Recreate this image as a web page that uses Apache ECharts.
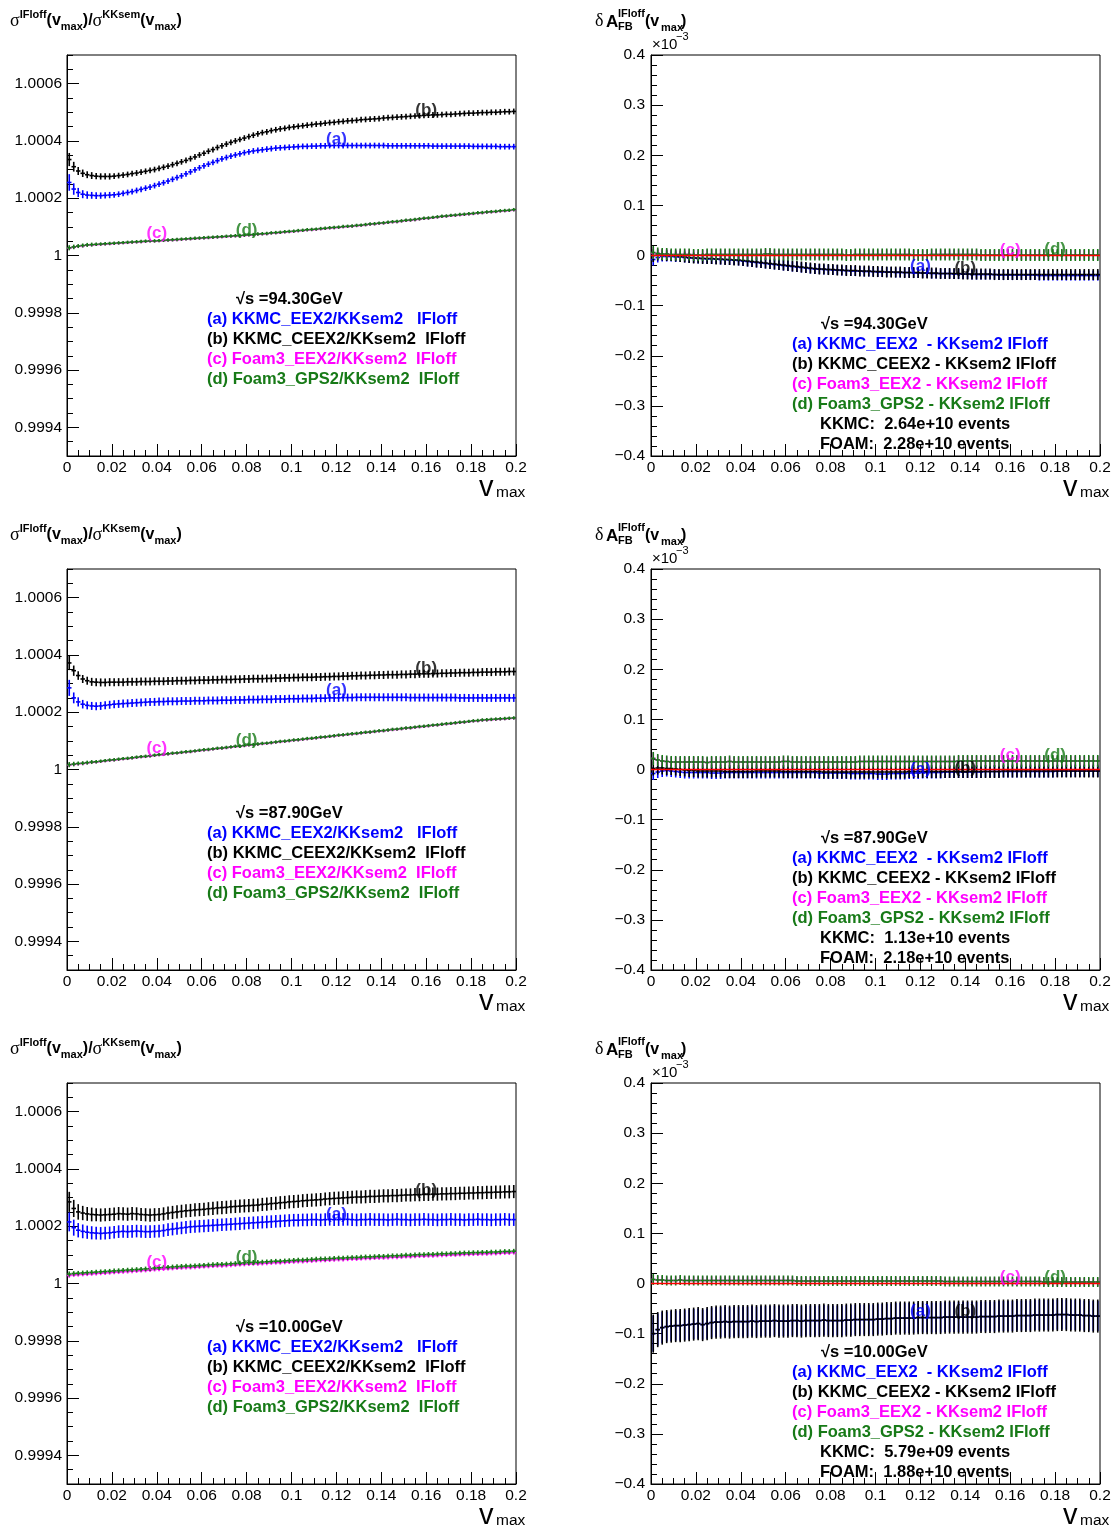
<!DOCTYPE html>
<html><head><meta charset="utf-8">
<script src="https://cdn.jsdelivr.net/npm/echarts@6/dist/echarts.min.js"></script>
<style>html,body{margin:0;padding:0;background:#fff}#c{width:1116px;height:1529px}</style>
</head><body><div id="c"></div>
<script>
// ---------- binning ----------
const BIN_W = 0.002, N_BINS = 100;
// ---------- tick values ----------
const X_MIN = 0, X_MAX = 0.2, X_INT = 0.02;
const L_MIN = -700, L_MAX = 700, L_MAJOR = [-600,-400,-200,0,200,400,600], L_MINOR_INT = 50; // ppm: 1+v*1e-6
const R_MIN = -400, R_MAX = 400, R_INT = 100; // units 1e-6 (axis shown x10^-3)

// ---------- Left panels: sigma ratio - 1, in units of 1e-6 ----------
const L94_a = [255,232,220,214,211,210,209,209,210,211,
212,214,217,220,223,227,231,235,239,244,
249,254,260,266,272,278,285,292,299,306,
313,319,325,331,337,342,347,351,355,359,
362,365,367,369,371,373,375,376,377,378,
379,380,381,381,382,382,383,383,384,384,
384,384,384,384,384,384,384,384,384,384,
384,383,383,383,383,383,383,383,383,383,
383,382,382,382,382,382,382,382,382,382,
381,381,381,381,381,381,380,380,380,380];
const L94_b = [335,310,295,287,282,279,277,276,276,276,
277,279,281,283,286,288,291,294,297,300,
304,308,312,317,322,327,332,338,344,351,
357,364,370,377,383,389,395,400,405,410,
415,420,425,429,432,436,439,442,444,447,
449,451,453,455,457,459,460,462,464,465,
467,468,470,471,472,474,475,476,477,478,
480,481,482,483,484,485,486,487,488,489,
490,491,491,492,493,493,494,495,496,497,
497,498,499,499,500,500,501,502,502,503];
const L94_c = [26,29,32,34,36,37,38,39,40,41,
42,43,44,45,46,47,48,49,50,50,
51,52,53,54,55,56,57,58,59,60,
61,62,63,64,65,66,67,68,69,70,
71,72,74,75,76,78,79,80,82,83,
84,86,87,89,90,91,93,94,96,97,
98,100,101,102,104,105,107,109,110,112,
113,115,117,118,120,122,123,125,127,129,
130,132,134,136,137,139,140,142,143,145,
146,148,149,151,152,153,155,156,157,159];
const L94_d = [27,30,33,35,37,38,39,40,41,42,
43,44,45,46,47,48,49,50,51,51,
52,53,54,55,56,57,58,59,60,61,
62,63,64,65,66,67,68,69,70,71,
72,73,75,76,77,79,80,81,83,84,
85,87,88,90,91,92,94,95,97,98,
99,101,102,103,105,106,108,110,111,113,
114,116,118,119,121,123,124,126,128,130,
131,133,135,137,138,140,141,143,144,146,
147,149,150,152,153,154,156,157,158,160];
const L94_a_err = [29,20,16,14,13,12,12,11,11,11,
10,10,10,10,10,10,10,10,10,10,10,10,10,10,10,10,10,10,10,10,
10,10,10,10,10,10,10,10,10,10,10,10,10,10,10,10,10,10,10,10,
10,10,10,10,10,10,10,10,10,10,10,10,10,10,10,10,10,10,10,10,
10,10,10,10,10,10,10,10,10,10,10,10,10,10,10,10,10,10,10,10,
10,10,10,10,10,10,10,10,10,10];
const L94_b_err = [23,17,14,13,12,12,11,11,11,11,
10,10,10,10,10,10,10,10,10,10,10,10,10,10,10,10,10,10,10,10,
10,10,10,10,10,10,10,10,10,10,10,10,10,10,10,10,10,10,10,10,
10,10,10,10,10,10,10,10,10,10,10,10,10,10,10,10,10,10,10,10,
10,10,10,10,10,10,10,10,10,10,10,10,10,10,10,10,10,10,10,10,
10,10,10,10,10,10,10,10,10,10];
const L94_c_err = [7,6,6,6,5,5,5,5,5,5,5,5,5,5,5,5,5,5,5,5,5,5,5,5,5,5,5,5,5,5,
5,5,5,5,5,5,5,5,5,5,5,5,5,5,5,5,5,5,5,5,5,5,5,5,5,5,5,5,5,5,
5,5,5,5,5,5,5,5,5,5,5,5,5,5,5,5,5,5,5,5,5,5,5,5,5,5,5,5,5,5,
5,5,5,5,5,5,5,5,5,5];
const L94_d_err = [9,8,7,7,7,7,6,6,6,6,6,6,6,6,6,6,6,6,6,6,6,6,6,6,6,6,6,6,6,6,
6,6,6,6,6,6,6,6,6,6,6,6,6,6,6,6,6,6,6,6,6,6,6,6,6,6,6,6,6,6,
6,6,6,6,6,6,6,6,6,6,6,6,6,6,6,6,6,6,6,6,6,6,6,6,6,6,6,6,6,6,
6,6,6,6,6,6,6,6,6,6];

const L88_a = [285,250,236,228,224,222,221,222,224,226,
228,229,230,231,232,233,234,235,236,236,
237,237,238,238,238,239,239,239,240,240,
240,241,241,241,242,242,242,243,243,243,
244,244,244,245,245,245,246,246,246,247,
247,247,248,248,248,249,249,249,250,250,
250,251,251,251,252,252,252,252,252,252,
252,252,252,252,252,252,251,251,251,251,
251,251,251,251,251,251,251,250,250,250,
250,250,250,250,250,250,250,250,250,250];
const L88_b = [372,345,328,316,310,306,305,304,304,305,
305,305,305,306,306,306,307,307,307,308,
308,308,309,309,310,310,310,311,311,312,
312,312,313,313,314,314,314,315,315,316,
316,317,317,317,318,318,319,319,320,320,
321,321,322,322,322,323,323,324,324,325,
325,326,326,327,327,328,328,329,329,330,
330,331,331,331,332,332,333,333,334,334,
334,335,335,336,336,337,337,338,338,338,
339,339,340,340,340,341,341,341,342,342];
const L88_c = [16,18,20,21,23,25,26,28,30,32,
33,35,37,38,40,42,44,45,47,49,
51,52,54,56,57,59,61,62,64,66,
68,69,71,73,74,76,78,80,81,83,
85,86,88,90,91,93,95,97,98,100,
102,103,105,107,108,110,112,113,115,117,
119,120,122,124,125,127,129,130,132,134,
135,137,139,140,142,144,145,147,149,150,
152,154,155,157,159,160,162,164,165,167,
169,170,172,173,174,175,176,177,178,179];
const L88_d = [17,19,21,22,24,26,27,29,31,33,
34,36,38,39,41,43,45,46,48,50,
52,53,55,57,58,60,62,63,65,67,
69,70,72,74,75,77,79,81,82,84,
86,87,89,91,92,94,96,98,99,101,
103,104,106,108,109,111,113,114,116,118,
120,121,123,125,126,128,130,131,133,135,
136,138,140,141,143,145,146,148,150,151,
153,155,156,158,160,161,163,165,166,168,
170,171,173,174,175,176,177,178,179,180];
const L88_a_err = [28,19,16,15,14,14,14,14,14,14,
14,14,14,14,14,14,14,14,14,14,14,14,14,14,14,14,14,14,14,14,
14,14,14,14,14,14,14,14,14,14,14,14,14,14,14,14,14,14,14,14,
14,14,14,14,14,14,14,14,14,14,14,14,14,14,14,14,14,14,14,14,
14,14,14,14,14,14,14,14,14,14,14,14,14,14,14,14,14,14,14,14,
14,14,14,14,14,14,14,14,14,14];
const L88_b_err = [25,18,15,14,14,14,14,14,14,14,
14,14,14,14,14,14,14,14,14,14,14,14,14,14,14,14,14,14,14,14,
14,14,14,14,14,14,14,14,14,14,14,14,14,14,14,14,14,14,14,14,
14,14,14,14,14,14,14,14,14,14,14,14,14,14,14,14,14,14,14,14,
14,14,14,14,14,14,14,14,14,14,14,14,14,14,14,14,14,14,14,14,
14,14,14,14,14,14,14,14,14,14];
const L88_c_err = L94_c_err.slice();
const L88_d_err = L94_d_err.slice();

const L10_a = [215,195,186,182,179,177,176,175,176,177,
179,181,182,181,182,183,182,181,181,182,
183,185,188,190,192,194,196,198,199,200,
201,202,203,204,205,206,207,208,209,210,
211,212,213,214,215,216,217,218,219,220,
221,221,222,222,223,223,222,223,224,223,
223,224,224,223,222,223,223,224,223,223,
223,222,223,224,223,223,222,223,223,224,
223,223,222,223,223,224,223,223,222,223,
223,224,223,223,222,223,223,224,223,223];
const L10_b = [285,262,250,246,243,241,240,239,240,241,
242,244,243,242,244,243,241,240,239,240,
241,243,246,248,250,252,254,255,257,258,
259,261,262,264,265,266,268,269,270,271,
272,273,274,276,277,279,280,282,283,285,
286,287,289,290,291,292,293,295,296,297,
298,299,300,301,302,302,303,304,304,305,
306,306,307,307,308,309,309,310,310,311,
311,312,312,313,313,314,314,315,315,316,
316,317,317,318,318,319,319,320,320,321];
const L10_c = [28,30,31,32,33,34,35,36,37,38,
39,40,41,42,43,44,45,46,47,49,
50,51,52,53,54,55,56,56,57,58,
59,60,61,62,62,63,64,65,66,67,
68,69,69,70,71,72,73,73,74,75,
76,77,77,78,79,80,81,81,82,83,
84,84,85,86,86,87,88,88,89,90,
90,91,92,92,93,94,94,95,96,96,
97,97,98,99,99,100,100,101,102,102,
103,103,104,104,105,105,106,107,107,108];
const L10_d = [33,35,36,37,38,39,40,41,42,43,
44,45,46,47,48,49,50,51,52,54,
55,56,57,58,59,60,61,61,62,63,
64,65,66,67,67,68,69,70,71,72,
73,74,74,75,76,77,78,78,79,80,
81,82,82,83,84,85,86,86,87,88,
89,89,90,91,91,92,93,93,94,95,
95,96,97,97,98,99,99,100,101,101,
102,102,103,104,104,105,105,106,107,107,
108,108,109,109,110,110,111,112,112,113];
const L10_a_err = [33,28,25,24,23,23,22,22,22,22,
22,22,22,22,22,22,22,22,22,22,22,22,22,22,22,22,22,22,22,22,
22,22,22,22,22,22,22,22,22,22,22,22,22,22,22,22,22,22,22,22,
22,22,22,22,22,22,22,22,22,22,22,22,22,22,22,22,22,22,22,22,
22,22,22,22,22,22,22,22,22,22,22,22,22,22,22,22,22,22,22,22,
22,22,22,22,22,22,22,22,22,22];
const L10_b_err = [35,30,27,25,24,24,23,23,23,23,
23,23,23,23,23,23,23,23,23,23,23,23,23,23,23,23,23,23,23,23,
23,23,23,23,23,23,23,23,23,23,23,23,23,23,23,23,23,23,23,23,
23,23,23,23,23,23,23,23,23,23,23,23,23,23,23,23,23,23,23,23,
23,23,23,23,23,23,23,23,23,23,23,23,23,23,23,23,23,23,23,23,
23,23,23,23,23,23,23,23,23,23];
const L10_c_err = [8,7,7,7,7,7,7,7,7,7,7,7,7,7,7,7,7,7,7,7,7,7,7,7,7,7,7,7,7,7,
7,7,7,7,7,7,7,7,7,7,7,7,7,7,7,7,7,7,7,7,7,7,7,7,7,7,7,7,7,7,
7,7,7,7,7,7,7,7,7,7,7,7,7,7,7,7,7,7,7,7,7,7,7,7,7,7,7,7,7,7,
7,7,7,7,7,7,7,7,7,7];
const L10_d_err = [9,8,8,8,8,8,8,8,8,8,8,8,8,8,8,8,8,8,8,8,8,8,8,8,8,8,8,8,8,8,
8,8,8,8,8,8,8,8,8,8,8,8,8,8,8,8,8,8,8,8,8,8,8,8,8,8,8,8,8,8,
8,8,8,8,8,8,8,8,8,8,8,8,8,8,8,8,8,8,8,8,8,8,8,8,8,8,8,8,8,8,
8,8,8,8,8,8,8,8,8,8];

// ---------- Right panels: delta A_FB in units of 1e-6 (axis shows x10^-3) ----------
const R94_a = [-8,-4,-2,-2,-2,-3,-3,-4,-5,-5,
-6,-6,-7,-7,-7,-8,-8,-9,-9,-10,
-11,-12,-13,-14,-15,-16,-17,-18,-19,-20,
-21,-22,-23,-24,-25,-26,-27,-27,-28,-28,
-29,-29,-30,-30,-31,-31,-31,-32,-32,-32,
-33,-33,-33,-33,-34,-34,-34,-34,-35,-35,
-35,-35,-36,-36,-36,-36,-36,-37,-37,-37,
-37,-38,-38,-38,-38,-38,-38,-39,-39,-39,
-39,-39,-39,-39,-39,-39,-40,-40,-40,-40,
-40,-40,-40,-40,-40,-40,-40,-40,-40,-40];
const R94_b = [0,1,1,0,0,-1,-2,-3,-4,-5,
-5,-6,-6,-6,-7,-7,-8,-8,-9,-9,
-10,-11,-12,-13,-14,-15,-16,-17,-18,-19,
-20,-21,-22,-23,-24,-25,-26,-27,-27,-28,
-28,-29,-29,-30,-30,-30,-31,-31,-31,-32,
-32,-32,-33,-33,-33,-33,-34,-34,-34,-34,
-35,-35,-35,-35,-36,-36,-36,-36,-36,-37,
-37,-37,-37,-37,-37,-37,-38,-38,-38,-38,
-38,-38,-38,-38,-38,-38,-38,-38,-38,-38,
-38,-38,-38,-38,-38,-38,-38,-38,-38,-38];
const R94_c = [5,4,3,3,2,2,2,2,2,1,1,1,2,2,2,2,2,2,2,2,
2,2,2,2,2,3,3,2,2,2,2,2,2,2,2,2,2,2,2,2,
2,2,2,1,1,2,2,2,2,2,2,2,2,2,2,2,2,2,1,1,
1,1,2,2,2,2,2,2,2,2,2,2,2,1,1,1,1,1,1,1,
1,1,1,1,1,1,1,1,1,1,1,1,1,1,1,1,1,1,1,1];
const R94_d = [6,4,3,3,2,2,2,2,2,1,1,1,2,2,2,2,2,2,2,2,
2,2,2,2,2,3,3,2,2,2,2,2,2,2,2,2,2,2,2,2,
2,2,2,1,1,2,2,2,2,2,2,2,2,2,2,2,2,2,1,1,
1,1,2,2,2,2,2,2,2,2,2,2,2,1,1,1,1,1,1,1,
1,1,1,1,1,1,1,1,1,1,1,1,1,1,1,1,1,1,1,1];
const R94_a_err = [12,10,10,10,10,10,10,10,10,10,10,10,10,10,10,10,10,10,10,10,
10,10,10,10,10,10,10,10,10,10,10,10,10,10,10,10,10,10,10,10,
10,10,10,10,10,10,10,10,10,10,10,10,10,10,10,10,10,10,10,10,
10,10,10,10,10,10,10,10,10,10,10,10,10,10,10,10,10,10,10,10,
10,10,10,10,10,10,10,10,10,10,10,10,10,10,10,10,10,10,10,10];
const R94_b_err = [13,11,11,11,11,11,11,11,11,11,11,11,11,11,11,11,11,11,11,11,
11,11,11,11,11,11,11,11,11,11,11,11,11,11,11,11,11,11,11,11,
11,11,11,11,11,11,11,11,11,11,11,11,11,11,11,11,11,11,11,11,
11,11,11,11,11,11,11,11,11,11,11,11,11,11,11,11,11,11,11,11,
11,11,11,11,11,11,11,11,11,11,11,11,11,11,11,11,11,11,11,11];
const R94_c_err = R94_a_err.slice();
const R94_d_err = [13,12,12,12,12,12,12,12,12,12,12,12,12,12,12,12,12,12,12,12,
12,12,12,12,12,12,12,12,12,12,12,12,12,12,12,12,12,12,12,12,
12,12,12,12,12,12,12,12,12,12,12,12,12,12,12,12,12,12,12,12,
12,12,12,12,12,12,12,12,12,12,12,12,12,12,12,12,12,12,12,12,
12,12,12,12,12,12,12,12,12,12,12,12,12,12,12,12,12,12,12,12];

const R88_a = [-8,-5,-3,-2,-3,-4,-5,-6,-6,-6,
-6,-6,-6,-7,-7,-7,-6,-6,-6,-6,
-6,-6,-6,-6,-6,-6,-6,-6,-6,-6,
-6,-6,-6,-6,-6,-6,-6,-7,-7,-7,
-7,-7,-7,-7,-8,-8,-8,-8,-8,-8,
-9,-9,-9,-8,-8,-8,-8,-7,-7,-7,
-6,-6,-6,-6,-6,-5,-5,-5,-5,-5,
-5,-5,-5,-5,-4,-4,-4,-4,-4,-4,
-4,-4,-4,-4,-4,-4,-4,-4,-4,-4,
-3,-3,-3,-3,-3,-3,-3,-3,-3,-3];
const R88_b = [2,3,3,2,2,1,0,-1,-2,-2,
-3,-3,-3,-3,-3,-3,-4,-4,-4,-4,
-4,-4,-4,-3,-3,-3,-3,-3,-3,-4,
-4,-4,-4,-4,-4,-4,-4,-4,-5,-5,
-5,-5,-5,-5,-5,-5,-5,-5,-5,-5,
-5,-5,-5,-5,-5,-5,-5,-4,-4,-4,
-4,-4,-4,-4,-4,-4,-4,-4,-4,-4,
-4,-4,-4,-4,-4,-4,-4,-4,-3,-3,
-3,-3,-3,-3,-3,-3,-3,-3,-3,-3,
-3,-3,-3,-3,-3,-3,-3,-3,-3,-3];
const R88_c = [22,19,17,16,15,15,15,15,15,15,15,15,14,15,15,15,15,16,15,15,
15,15,15,15,15,15,15,15,15,16,16,15,15,15,15,15,15,15,15,15,
15,15,15,15,15,15,16,16,16,16,16,16,16,16,16,16,16,16,16,16,
16,16,16,16,16,16,16,16,17,17,17,17,17,17,17,17,17,17,17,17,
17,17,17,17,17,17,17,17,17,17,17,17,17,17,17,17,17,17,17,17];
const R88_d = [22,19,17,16,15,15,15,15,15,15,15,15,14,15,15,15,15,16,15,15,
15,15,15,15,15,15,15,15,15,16,16,15,15,15,15,15,15,15,15,15,
15,15,15,15,15,15,16,16,16,16,16,16,16,16,16,16,16,16,16,16,
16,16,16,16,16,16,16,16,17,17,17,17,17,17,17,17,17,17,17,17,
17,17,17,17,17,17,17,17,17,17,17,17,17,17,17,17,17,17,17,17];
const R88_a_err = [13,12,12,12,12,12,12,12,12,12,12,12,12,12,12,12,12,12,12,12,
12,12,12,12,12,12,12,12,12,12,12,12,12,12,12,12,12,12,12,12,
12,12,12,12,12,12,12,12,12,12,12,12,12,12,12,12,12,12,12,12,
12,12,12,12,12,12,12,12,12,12,12,12,12,12,12,12,12,12,12,12,
12,12,12,12,12,12,12,12,12,12,12,12,12,12,12,12,12,12,12,12];
const R88_b_err = [14,13,13,13,13,13,13,13,13,13,13,13,13,13,13,13,13,13,13,13,
13,13,13,13,13,13,13,13,13,13,13,13,13,13,13,13,13,13,13,13,
13,13,13,13,13,13,13,13,13,13,13,13,13,13,13,13,13,13,13,13,
13,13,13,13,13,13,13,13,13,13,13,13,13,13,13,13,13,13,13,13,
13,13,13,13,13,13,13,13,13,13,13,13,13,13,13,13,13,13,13,13];
const R88_c_err = R94_a_err.slice();
const R88_d_err = R94_d_err.slice();

const R10_a = [-100,-92,-88,-86,-85,-84,-84,-83,-82,-81,
-80,-82,-80,-78,-77,-77,-76,-77,-76,-76,
-76,-76,-75,-76,-75,-75,-75,-74,-75,-75,
-75,-74,-74,-75,-74,-74,-74,-74,-73,-74,
-74,-74,-74,-73,-73,-72,-72,-72,-72,-72,
-71,-71,-70,-70,-69,-69,-69,-69,-69,-68,
-68,-68,-68,-68,-68,-67,-67,-67,-67,-67,
-67,-67,-67,-66,-66,-66,-66,-65,-65,-65,
-65,-64,-64,-64,-64,-63,-63,-63,-63,-63,
-62,-62,-62,-63,-63,-63,-64,-64,-65,-65];
const R10_b = [-100,-92,-88,-86,-85,-84,-84,-83,-82,-81,
-80,-82,-80,-78,-77,-77,-76,-77,-76,-76,
-76,-76,-75,-76,-75,-75,-75,-74,-75,-75,
-75,-74,-74,-75,-74,-74,-74,-74,-73,-74,
-74,-74,-74,-73,-73,-72,-72,-72,-72,-72,
-71,-71,-70,-70,-69,-69,-69,-69,-69,-68,
-68,-68,-68,-68,-68,-67,-67,-67,-67,-67,
-67,-67,-67,-66,-66,-66,-66,-65,-65,-65,
-65,-64,-64,-64,-64,-63,-63,-63,-63,-63,
-62,-62,-62,-63,-63,-63,-64,-64,-65,-65];
const R10_c = [8,7,7,6,6,6,7,6,6,6,6,6,6,6,6,6,6,6,6,6,
6,6,6,6,6,6,6,6,6,6,6,6,5,5,5,5,5,5,5,5,
5,5,5,5,5,5,5,5,5,5,5,5,5,5,5,5,5,5,5,5,
5,5,5,5,5,4,4,4,4,4,4,4,4,4,4,4,4,4,4,4,
4,4,4,4,4,4,4,3,3,3,3,3,3,3,3,3,3,3,3,3];
const R10_d = [8,7,7,6,6,6,7,6,6,6,6,6,6,6,6,6,6,6,6,6,
6,6,6,6,6,6,6,6,6,6,6,6,5,5,5,5,5,5,5,5,
5,5,5,5,5,5,5,5,5,5,5,5,5,5,5,5,5,5,5,5,
5,5,5,5,5,4,4,4,4,4,4,4,4,4,4,4,4,4,4,4,
4,4,4,4,4,4,4,3,3,3,3,3,3,3,3,3,3,3,3,3];
const R10_a_err = [36,32,31,30,30,30,30,30,30,30,30,30,30,30,30,30,30,30,30,30,
30,30,30,30,30,30,30,30,30,30,30,30,30,30,30,30,30,30,30,30,
30,30,30,30,30,30,30,30,30,30,30,30,30,30,30,30,30,30,30,30,
30,30,30,30,30,30,30,30,30,30,30,30,30,30,30,30,30,30,30,30,
30,30,30,30,30,30,30,30,30,30,30,30,30,30,30,30,30,30,30,30];
const R10_b_err = [38,35,34,33,33,33,33,33,33,33,33,33,33,33,33,33,33,33,33,33,
33,33,33,33,33,33,33,33,33,33,33,33,33,33,33,33,33,33,33,33,
33,33,33,33,33,33,33,33,33,33,33,33,33,33,33,33,33,33,33,33,
33,33,33,33,33,33,33,33,33,33,33,33,33,33,33,33,33,33,33,33,
33,33,33,33,33,33,33,33,33,33,33,33,33,33,33,33,33,33,33,33];
const R10_c_err = [9,8,8,8,8,8,8,8,8,8,8,8,8,8,8,8,8,8,8,8,
8,8,8,8,8,8,8,8,8,8,8,8,8,8,8,8,8,8,8,8,
8,8,8,8,8,8,8,8,8,8,8,8,8,8,8,8,8,8,8,8,
8,8,8,8,8,8,8,8,8,8,8,8,8,8,8,8,8,8,8,8,
8,8,8,8,8,8,8,8,8,8,8,8,8,8,8,8,8,8,8,8];
const R10_d_err = [11,10,10,10,10,10,10,10,10,10,10,10,10,10,10,10,10,10,10,10,
10,10,10,10,10,10,10,10,10,10,10,10,10,10,10,10,10,10,10,10,
10,10,10,10,10,10,10,10,10,10,10,10,10,10,10,10,10,10,10,10,
10,10,10,10,10,10,10,10,10,10,10,10,10,10,10,10,10,10,10,10,
10,10,10,10,10,10,10,10,10,10,10,10,10,10,10,10,10,10,10,10];

// ---------- curve tags (x, y in data units) ----------
const TAGS = ['(a)','(b)','(c)','(d)'];
const TAG_X_L = [0.12, 0.16, 0.04, 0.08];
const TAG_Y_L94 = [405, 506, 77, 87];
const TAG_Y_L88 = [276, 352, 73, 101];
const TAG_Y_L10 = [241, 325, 73, 91];
const TAG_X_R = [0.12, 0.14, 0.16, 0.18];
const TAG_Y_R94 = [-22, -26, 10, 12];
const TAG_Y_R88 = [0, 2, 28, 28];
const TAG_Y_R10 = [-56, -56, 12, 12];

// ---------- texts ----------
const ENERGIES = ['94.30', '87.90', '10.00'];
const KKMC_EV = ['2.64e+10', '1.13e+10', '5.79e+09'];
const FOAM_EV = ['2.28e+10', '2.18e+10', '1.88e+10'];
const LEG_L = ['(a) KKMC_EEX2/KKsem2   IFloff', '(b) KKMC_CEEX2/KKsem2  IFloff', '(c) Foam3_EEX2/KKsem2  IFloff', '(d) Foam3_GPS2/KKsem2  IFloff'];
const LEG_R = ['(a) KKMC_EEX2  - KKsem2 IFloff', '(b) KKMC_CEEX2 - KKsem2 IFloff', '(c) Foam3_EEX2 - KKsem2 IFloff', '(d) Foam3_GPS2 - KKsem2 IFloff'];

const COLORS = ['#0000ff', '#000000', '#ff00ff', '#177a17'];
const FONT = '"Liberation Sans", Arial, sans-serif';

// ---------- layout ----------
const GL = 67, GR = 651, GW = 449, GH = 401, TOPS = [55, 569, 1083];

const xCenters = Array.from({length: N_BINS}, (_, i) => BIN_W * (i + 0.5));
function pts(vals, errs) { return vals.map((v, i) => [xCenters[i], v, errs[i]]); }

const fmtX = v => v === 0 ? '0' : String(+v.toFixed(3));
const fmtL = v => v === 0 ? '1' : (1 + v * 1e-6).toFixed(4);
const fmtR = v => v === 0 ? '0' : (v < 0 ? '\u2212' : '') + Math.abs(v / 1000).toFixed(1);

function renderErr(params, api) {
  const x = api.value(0), y = api.value(1), e = api.value(2);
  const l = api.coord([x - BIN_W / 2, y]), r = api.coord([x + BIN_W / 2, y]);
  const t = api.coord([x, y + e]), b = api.coord([x, y - e]);
  const st = { stroke: api.visual('color'), lineWidth: 1.6 };
  return { type: 'group', children: [
    { type: 'line', shape: { x1: l[0], y1: l[1], x2: r[0], y2: r[1] }, style: st },
    { type: 'line', shape: { x1: t[0], y1: t[1], x2: b[0], y2: b[1] }, style: st }
  ]};
}

const panels = [
  { side: 'L', row: 0, d: [[L94_a, L94_a_err], [L94_b, L94_b_err], [L94_c, L94_c_err], [L94_d, L94_d_err]], tx: TAG_X_L, ty: TAG_Y_L94 },
  { side: 'R', row: 0, d: [[R94_a, R94_a_err], [R94_b, R94_b_err], [R94_c, R94_c_err], [R94_d, R94_d_err]], tx: TAG_X_R, ty: TAG_Y_R94 },
  { side: 'L', row: 1, d: [[L88_a, L88_a_err], [L88_b, L88_b_err], [L88_c, L88_c_err], [L88_d, L88_d_err]], tx: TAG_X_L, ty: TAG_Y_L88 },
  { side: 'R', row: 1, d: [[R88_a, R88_a_err], [R88_b, R88_b_err], [R88_c, R88_c_err], [R88_d, R88_d_err]], tx: TAG_X_R, ty: TAG_Y_R88 },
  { side: 'L', row: 2, d: [[L10_a, L10_a_err], [L10_b, L10_b_err], [L10_c, L10_c_err], [L10_d, L10_d_err]], tx: TAG_X_L, ty: TAG_Y_L10 },
  { side: 'R', row: 2, d: [[R10_a, R10_a_err], [R10_b, R10_b_err], [R10_c, R10_c_err], [R10_d, R10_d_err]], tx: TAG_X_R, ty: TAG_Y_R10 }
];

const grid = [], xAxis = [], yAxis = [], series = [], graphic = [];
const lbl = { color: '#000', fontSize: 15.5, fontFamily: FONT };

function T(x, y, s, color, font) {
  return { type: 'text', x: x, y: y, style: { text: s, fill: color, font: font, textVerticalAlign: 'middle', verticalAlign: 'middle' } };
}

panels.forEach((p, gi) => {
  const left = p.side === 'L' ? GL : GR, top = TOPS[p.row];
  grid.push({ left: left, top: top, width: GW, height: GH, show: true, borderColor: '#000', borderWidth: 1, backgroundColor: '#fff' });
  xAxis.push({ gridIndex: gi, type: 'value', min: X_MIN, max: X_MAX, interval: X_INT,
    axisLine: { show: true, onZero: false, lineStyle: { color: '#000', width: 1 } },
    axisTick: { show: true, inside: true, length: 12, lineStyle: { color: '#000' } },
    minorTick: { show: true, splitNumber: 4, length: 6, lineStyle: { color: '#000' } },
    splitLine: { show: false }, minorSplitLine: { show: false },
    axisLabel: Object.assign({ margin: 4, formatter: fmtX, showMinLabel: true, showMaxLabel: true }, lbl) });
  const yMain = yAxis.length;
  if (p.side === 'L') {
    yAxis.push({ gridIndex: gi, type: 'value', min: L_MIN, max: L_MAX, position: 'left',
      axisLine: { show: true, onZero: false, lineStyle: { color: '#000' } },
      axisTick: { show: true, inside: true, length: 12, customValues: L_MAJOR, lineStyle: { color: '#000' } },
      splitLine: { show: false },
      axisLabel: Object.assign({ margin: 5, customValues: L_MAJOR, formatter: fmtL }, lbl) });
    yAxis.push({ gridIndex: gi, type: 'value', min: L_MIN, max: L_MAX, interval: L_MINOR_INT, position: 'left', offset: 0,
      axisLine: { show: false }, axisTick: { show: true, inside: true, length: 6, lineStyle: { color: '#000' } },
      splitLine: { show: false }, axisLabel: { show: false } });
  } else {
    yAxis.push({ gridIndex: gi, type: 'value', min: R_MIN, max: R_MAX, interval: R_INT, position: 'left',
      axisLine: { show: true, onZero: false, lineStyle: { color: '#000' } },
      axisTick: { show: true, inside: true, length: 12, lineStyle: { color: '#000' } },
      minorTick: { show: true, splitNumber: 5, length: 6, lineStyle: { color: '#000' } },
      splitLine: { show: false }, minorSplitLine: { show: false },
      axisLabel: Object.assign({ margin: 6, formatter: fmtR, showMinLabel: true, showMaxLabel: true }, lbl) });
  }
  p.d.forEach((sd, k) => {
    series.push({ type: 'custom', xAxisIndex: gi, yAxisIndex: yMain, renderItem: renderErr,
      itemStyle: { color: COLORS[k] }, data: pts(sd[0], sd[1]), encode: { x: 0, y: 1 }, z: 2 + k, silent: true });
  });
  if (p.side === 'R') {
    series.push({ type: 'line', xAxisIndex: gi, yAxisIndex: yMain, data: [[X_MIN, 0], [X_MAX, 0]],
      symbol: 'none', lineStyle: { color: '#ff0000', width: 1.6 }, z: 8, silent: true });
  }
  series.push({ type: 'scatter', xAxisIndex: gi, yAxisIndex: yMain, symbolSize: 0, z: 10, silent: true,
    data: TAGS.map((t, k) => ({ value: [p.tx[k], p.ty[k]], name: t,
      label: { show: true, position: 'inside', formatter: t, color: COLORS[k], fontSize: 17, fontWeight: 'bold', fontFamily: FONT } })) });

  // axis title v_max
  const gx = left + GW, gy = top + GH;
  graphic.push(T(gx - 37, gy + 32, 'v', '#000', '29px ' + FONT));
  graphic.push(T(gx - 20, gy + 37, 'max', '#000', '15.5px ' + FONT));
});

const BF = 'bold 16.5px ' + FONT;
const SUPF = 'bold 11px ' + FONT;
const PF = 'bold 16px ' + FONT;
const SERIF = '18px "Liberation Serif", "DejaVu Serif", serif';

[0, 1, 2].forEach(r => {
  const dy = TOPS[r] - TOPS[0];
  // left title
  graphic.push({ type: 'text', x: 10, y: 21 + dy, style: {
    text: '{g|σ}{sup|IFloff}{b|(v}{sub|max}{b|)/}{g|σ}{sup|KKsem}{b|(v}{sub|max}{b|)}',
    verticalAlign: 'middle', textVerticalAlign: 'middle',
    rich: {
      g: { fontSize: 18, fontFamily: '"Liberation Serif", serif', fill: '#000' },
      b: { fontSize: 16, fontWeight: 'bold', fontFamily: FONT, fill: '#000' },
      sup: { fontSize: 11, fontWeight: 'bold', fontFamily: FONT, fill: '#000', padding: [0, 0, 12, 0] },
      sub: { fontSize: 11, fontWeight: 'bold', fontFamily: FONT, fill: '#000', padding: [11, 0, 0, 0] }
    } } });
  // right title
  graphic.push(T(595, 21 + dy, 'δ', '#000', SERIF));
  graphic.push(T(606, 22 + dy, 'A', '#000', 'bold 17px ' + FONT));
  graphic.push(T(618, 14 + dy, 'IFloff', '#000', SUPF));
  graphic.push(T(618, 27 + dy, 'FB', '#000', SUPF));
  graphic.push(T(645, 22 + dy, '(v', '#000', PF));
  graphic.push(T(661, 28 + dy, 'max', '#000', SUPF));
  graphic.push(T(681, 22 + dy, ')', '#000', PF));
  graphic.push(T(652, 45 + dy, '×10', '#000', '15px ' + FONT));
  graphic.push(T(676, 37 + dy, '\u22123', '#000', '11px ' + FONT));
  // left legend block
  graphic.push(T(236, 299 + dy, '√s =' + ENERGIES[r] + 'GeV', '#000', BF));
  LEG_L.forEach((s, k) => graphic.push(T(207, 319 + 20 * k + dy, s, COLORS[k], BF)));
  // right legend block
  graphic.push(T(821, 324 + dy, '√s =' + ENERGIES[r] + 'GeV', '#000', BF));
  LEG_R.forEach((s, k) => graphic.push(T(792, 344 + 20 * k + dy, s, COLORS[k], BF)));
  graphic.push(T(820, 424 + dy, 'KKMC:  ' + KKMC_EV[r] + ' events', '#000', BF));
  graphic.push(T(820, 444 + dy, 'FOAM:  ' + FOAM_EV[r] + ' events', '#000', BF));
});

const chart = echarts.init(document.getElementById('c'), null, { renderer: 'canvas' });
chart.setOption({ animation: false, backgroundColor: '#fff', textStyle: { fontFamily: FONT },
  grid, xAxis, yAxis, series, graphic });
</script>
</body></html>
